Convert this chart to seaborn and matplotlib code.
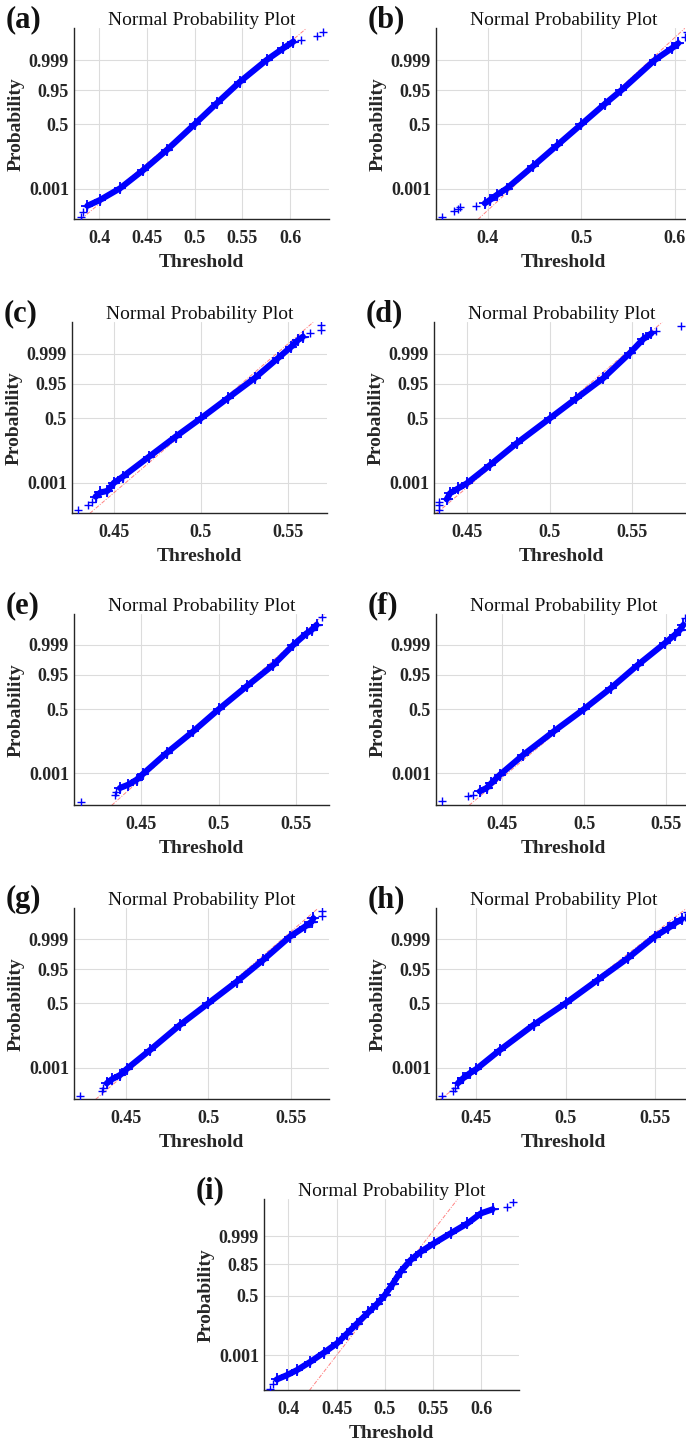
import matplotlib
matplotlib.use("Agg")
import matplotlib.pyplot as plt
import numpy as np
import pandas as pd
import seaborn as sns
from statistics import NormalDist

# ---------------- data ----------------
panel_ids = ["(a)", "(b)", "(c)", "(d)", "(e)", "(f)", "(g)", "(h)", "(i)"]

# threshold values and their normal scores (probability axis in z units)
thr_a = [0.381, 0.3829, 0.3878, 0.401, 0.422, 0.4464, 0.4709, 0.5, 0.5232, 0.5476,
         0.5756, 0.593, 0.6035, 0.612, 0.628, 0.634]
score_a = [-4.45, -4.2, -3.92, -3.64, -3.08, -2.2, -1.24, 0.0, 1.01, 2.05,
           3.1, 3.66, 3.98, 4.06, 4.27, 4.46]

thr_b = [0.3508, 0.3634, 0.3677, 0.3703, 0.3876, 0.3966, 0.402, 0.4100, 0.4200, 0.4486,
         0.4743, 0.5, 0.5257, 0.5430, 0.5786, 0.597, 0.6038, 0.611, 0.6128]
score_b = [-4.45, -4.17, -4.08, -3.96, -3.92, -3.80, -3.64, -3.38, -3.09, -2.0,
           -1.0, 0.0, 1.0, 1.645, 3.09, 3.66, 3.90, 4.22, 4.46]

thr_c = [0.4295, 0.4352, 0.4377, 0.4397, 0.4425, 0.4464, 0.4502, 0.4552, 0.4703, 0.4855,
         0.5, 0.5153, 0.5307, 0.5441, 0.5517, 0.5556, 0.5584, 0.5626, 0.5686, 0.5686]
score_c = [-4.39, -4.15, -3.99, -3.75, -3.55, -3.48, -3.09, -2.80, -1.84, -0.88,
           0.0, 0.96, 1.92, 2.88, 3.43, 3.75, 3.91, 4.07, 4.23, 4.47]

thr_d = [0.4331, 0.4331, 0.4331, 0.4375, 0.4395, 0.4446, 0.4496, 0.4637, 0.4798, 0.5,
         0.5161, 0.5323, 0.5484, 0.5565, 0.5615, 0.5645, 0.5796]
score_d = [-4.39, -4.15, -4.03, -3.88, -3.59, -3.35, -3.12, -2.24, -1.20, 0.0,
           0.96, 1.92, 3.12, 3.79, 4.07, 4.20, 4.44]

thr_e = [0.4108, 0.4329, 0.4335, 0.4361, 0.4415, 0.4469, 0.4512, 0.4662, 0.4834, 0.5,
         0.5178, 0.5351, 0.548, 0.5566, 0.5598, 0.563, 0.5662]
score_e = [-4.46, -4.11, -3.96, -3.79, -3.63, -3.39, -3.10, -2.11, -1.07, 0.0,
           1.09, 2.12, 3.08, 3.64, 3.80, 4.04, 4.41]

thr_f = [0.4135, 0.4293, 0.4324, 0.4365, 0.4406, 0.4436, 0.4488, 0.4631, 0.4816, 0.5,
         0.5164, 0.5328, 0.5492, 0.5553, 0.5584, 0.5605, 0.5615]
score_f = [-4.42, -4.19, -4.11, -3.95, -3.79, -3.55, -3.15, -2.19, -1.07, 0.0,
           1.01, 2.12, 3.16, 3.56, 3.80, 4.04, 4.36]

thr_g = [0.4221, 0.4352, 0.4362, 0.4383, 0.4413, 0.4464, 0.4504, 0.4646, 0.4828, 0.5,
         0.5172, 0.5334, 0.5496, 0.5587, 0.5628, 0.5638, 0.5688, 0.5692]
score_g = [-4.46, -4.21, -4.09, -3.85, -3.66, -3.45, -3.16, -2.25, -1.04, 0.0,
           1.04, 2.09, 3.21, 3.69, 3.93, 4.09, 4.21, 4.46]

thr_h = [0.431, 0.437, 0.438, 0.4398, 0.4427, 0.4464, 0.4502, 0.4633, 0.4821, 0.5,
         0.5179, 0.5348, 0.5498, 0.5573, 0.5611, 0.5648, 0.5667, 0.5677]
score_h = [-4.46, -4.21, -4.09, -3.85, -3.61, -3.37, -3.16, -2.25, -1.04, 0.0,
           1.12, 2.17, 3.21, 3.61, 3.85, 4.04, 4.17, 4.41]

thr_i = [0.3811, 0.3839, 0.3880, 0.3984, 0.4088, 0.4227, 0.4366, 0.4504, 0.4608, 0.4712,
         0.4830, 0.4920, 0.5, 0.5080, 0.5163, 0.5267, 0.5371, 0.551, 0.5683, 0.5856,
         0.5995, 0.6116, 0.6265, 0.6324]
score_i = [-4.81, -4.55, -4.34, -4.12, -3.86, -3.43, -2.96, -2.47, -1.96, -1.44,
           -0.86, -0.42, 0.03, 0.60, 1.25, 1.85, 2.28, 2.72, 3.24, 3.75,
           4.27, 4.48, 4.62, 4.84]

thresholds = [thr_a, thr_b, thr_c, thr_d, thr_e, thr_f, thr_g, thr_h, thr_i]
scores = [score_a, score_b, score_c, score_d, score_e, score_f, score_g, score_h, score_i]

# number of isolated points at the low / high tail of each panel
tail_low = [2, 5, 3, 3, 3, 3, 3, 3, 2]
tail_high = [3, 2, 3, 2, 1, 1, 2, 2, 2]

# reference line (normal fit) parameters
ref_mu = [0.4985, 0.4995, 0.5000, 0.4993, 0.5000, 0.5000, 0.4995, 0.4992, 0.4979]
ref_sigma = [0.0257, 0.0241, 0.01397, 0.01495, 0.01497, 0.01515, 0.0147, 0.01497, 0.01548]

# axis ticks
xticks_list = [[0.4, 0.45, 0.5, 0.55, 0.6], [0.4, 0.5, 0.6],
               [0.45, 0.5, 0.55], [0.45, 0.5, 0.55], [0.45, 0.5, 0.55],
               [0.45, 0.5, 0.55], [0.45, 0.5, 0.55], [0.45, 0.5, 0.55],
               [0.4, 0.45, 0.5, 0.55, 0.6]]
ytick_probs = [0.001, 0.5, 0.95, 0.999]
ytick_labels = [["0.001", "0.5", "0.95", "0.999"]] * 8 + [["0.001", "0.5", "0.85", "0.999"]]

xlims = [(0.3738, 0.6408), (0.3443, 0.6175), (0.4262, 0.5722), (0.4298, 0.5843),
         (0.4065, 0.5710), (0.4098, 0.5652), (0.4184, 0.5733), (0.4276, 0.5701),
         (0.3749, 0.6390)]
ylims = [(-4.57, 4.62), (-4.57, 4.62), (-4.55, 4.60), (-4.55, 4.60),
         (-4.62, 4.55), (-4.62, 4.55), (-4.62, 4.57), (-4.62, 4.57), (-4.90, 5.00)]

# ---------------- layout (pixels) ----------------
W, H = 686, 1440
ax_left = [74, 436, 72, 434, 74, 436, 74, 436, 264]
ax_top = [28.3, 28.3, 322.3, 322.3, 614.3, 614.3, 908.3, 908.3, 1199.3]
ax_w = 255
ax_h = 191

sns.set_theme(style="white")
plt.rcParams["font.family"] = ["Liberation Serif", "DejaVu Serif"]

fig = plt.figure(figsize=(W / 100, H / 100), dpi=100)
fig.patch.set_facecolor("white")

nd = NormalDist()
ytick_z = [nd.inv_cdf(p) for p in ytick_probs]

for k in range(9):
    l, t = ax_left[k], ax_top[k]
    ax = fig.add_axes([l / W, 1 - (t + ax_h) / H, ax_w / W, ax_h / H])
    ax.set_facecolor("white")

    x = np.array(thresholds[k])
    z = np.array(scores[k])
    lo, hi = tail_low[k], len(x) - tail_high[k]
    band = pd.DataFrame({"Threshold": x[lo:hi], "score": z[lo:hi]})
    allpts = pd.DataFrame({"Threshold": x, "score": z})

    # reference line
    ax.axline((ref_mu[k], 0.0), slope=1.0 / ref_sigma[k], color="#ff3030",
              lw=0.7, ls=(0, (4, 1.5, 1, 1.5)), alpha=0.6, zorder=2)

    # dense band of observations
    sns.lineplot(data=band, x="Threshold", y="score", sort=False, estimator=None,
                 color="blue", lw=4.4, ax=ax, zorder=3)
    sns.lineplot(data=band, x="Threshold", y="score", sort=False, estimator=None,
                 color="blue", lw=0, marker="+", markersize=8.5,
                 markeredgewidth=1.3, markeredgecolor="blue", ax=ax, zorder=3)
    # individual '+' markers
    sns.lineplot(data=allpts, x="Threshold", y="score", sort=False, estimator=None,
                 color="blue", lw=0, marker="+", markersize=6,
                 markeredgewidth=1.0, markeredgecolor="blue", ax=ax, zorder=4)

    ax.set_xlim(*xlims[k])
    ax.set_ylim(*ylims[k])
    ax.set_xticks(xticks_list[k])
    ax.set_xticklabels([f"{v:g}" for v in xticks_list[k]])
    ax.set_yticks(ytick_z)
    ax.set_yticklabels(ytick_labels[k])

    ax.grid(True, color="#dcdcdc", lw=0.8)
    ax.set_axisbelow(True)
    for s in ["top", "right"]:
        ax.spines[s].set_visible(False)
    for s in ["left", "bottom"]:
        ax.spines[s].set_color("#262626")
        ax.spines[s].set_linewidth(1.0)

    ax.tick_params(axis="x", length=0, pad=8, labelsize=13, colors="#262626")
    ax.tick_params(axis="y", length=0, pad=3.6, labelsize=13, colors="#262626")
    for lab in ax.get_xticklabels() + ax.get_yticklabels():
        lab.set_fontweight("bold")

    ax.set_xlabel("Threshold", fontsize=14, fontweight="bold", color="#262626", labelpad=5)
    ax.set_ylabel("Probability", fontsize=14, fontweight="bold", color="#262626", labelpad=3)
    ax.set_title("Normal Probability Plot", fontsize=14, pad=2.5, color="#111111")

    fig.text((l - 68) / W, 1 - (t - 9) / H, panel_ids[k], fontsize=22,
             fontweight="bold", ha="left", va="center", color="#111111")

fig.savefig("out.png", dpi=100, facecolor="white")
